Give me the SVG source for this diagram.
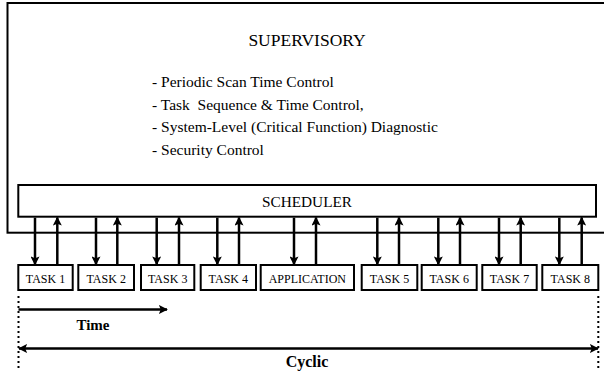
<svg xmlns="http://www.w3.org/2000/svg" width="604" height="371" viewBox="0 0 604 371">
<defs>
<style>
.box{fill:#fff;stroke:#000;stroke-width:2}
.t{font-family:"Liberation Serif","Times New Roman",serif;fill:#000}
.task{font-size:12px;text-anchor:middle}
.arr{stroke:#000;stroke-width:2.5;fill:none}
.dot{stroke:#000;stroke-width:2;stroke-dasharray:2 3;fill:none}
</style>
<marker id="ah" viewBox="0 0 10 10" refX="9" refY="5" markerWidth="9" markerHeight="9" markerUnits="userSpaceOnUse" orient="auto-start-reverse">
<path d="M0,0 L10,5 L0,10 L2,5 Z" fill="#000"/>
</marker>
</defs>
<rect width="604" height="371" fill="#fff"/>
<g id="supervisory">
<rect class="box" x="7.5" y="3" width="610" height="229.7"/>
<text class="t" x="307" y="46" font-size="17.5" text-anchor="middle">SUPERVISORY</text>
<text class="t" x="152" y="87" font-size="15.5">- Periodic Scan Time Control</text>
<text class="t" x="152" y="109.5" font-size="15.5" xml:space="preserve">- Task  Sequence &amp; Time Control,</text>
<text class="t" x="152" y="132" font-size="15.5">- System-Level (Critical Function) Diagnostic</text>
<text class="t" x="152" y="154.5" font-size="15.5">- Security Control</text>
</g>
<g id="scheduler">
<rect class="box" x="18.3" y="185" width="577.7" height="31.7"/>
<text class="t" x="307" y="206.5" font-size="15.3" text-anchor="middle">SCHEDULER</text>
</g>
<g id="task1"><rect class="box" x="18.3" y="265" width="54.4" height="25"/><text class="t task" x="45.5" y="283">TASK 1</text></g>
<g id="task2"><rect class="box" x="78.3" y="265" width="55.7" height="25"/><text class="t task" x="106.2" y="283">TASK 2</text></g>
<g id="task3"><rect class="box" x="141" y="265" width="53.3" height="25"/><text class="t task" x="167.7" y="283">TASK 3</text></g>
<g id="task4"><rect class="box" x="200.7" y="265" width="55.3" height="25"/><text class="t task" x="228.3" y="283">TASK 4</text></g>
<g id="application"><rect class="box" x="260.7" y="265" width="93.3" height="25"/><text class="t task" x="307.3" y="283">APPLICATION</text></g>
<g id="task5"><rect class="box" x="361.7" y="265" width="55.6" height="25"/><text class="t task" x="389.5" y="283">TASK 5</text></g>
<g id="task6"><rect class="box" x="421.7" y="265" width="55" height="25"/><text class="t task" x="449.2" y="283">TASK 6</text></g>
<g id="task7"><rect class="box" x="482.3" y="265" width="54.4" height="25"/><text class="t task" x="509.5" y="283">TASK 7</text></g>
<g id="task8"><rect class="box" x="542.3" y="265" width="56" height="25"/><text class="t task" x="570.3" y="283">TASK 8</text></g>
<g id="connectors">
<line class="arr" marker-end="url(#ah)" x1="35" y1="217.7" x2="35" y2="264.5"/>
<line class="arr" marker-end="url(#ah)" x1="96" y1="217.7" x2="96" y2="264.5"/>
<line class="arr" marker-end="url(#ah)" x1="156.7" y1="217.7" x2="156.7" y2="264.5"/>
<line class="arr" marker-end="url(#ah)" x1="217.3" y1="217.7" x2="217.3" y2="264.5"/>
<line class="arr" marker-end="url(#ah)" x1="294" y1="217.7" x2="294" y2="264.5"/>
<line class="arr" marker-end="url(#ah)" x1="377.3" y1="217.7" x2="377.3" y2="264.5"/>
<line class="arr" marker-end="url(#ah)" x1="438.3" y1="217.7" x2="438.3" y2="264.5"/>
<line class="arr" marker-end="url(#ah)" x1="499" y1="217.7" x2="499" y2="264.5"/>
<line class="arr" marker-end="url(#ah)" x1="559.3" y1="217.7" x2="559.3" y2="264.5"/>
<line class="arr" marker-end="url(#ah)" x1="57.3" y1="264" x2="57.3" y2="217.5"/>
<line class="arr" marker-end="url(#ah)" x1="117.3" y1="264" x2="117.3" y2="217.5"/>
<line class="arr" marker-end="url(#ah)" x1="179" y1="264" x2="179" y2="217.5"/>
<line class="arr" marker-end="url(#ah)" x1="239" y1="264" x2="239" y2="217.5"/>
<line class="arr" marker-end="url(#ah)" x1="316" y1="264" x2="316" y2="217.5"/>
<line class="arr" marker-end="url(#ah)" x1="399" y1="264" x2="399" y2="217.5"/>
<line class="arr" marker-end="url(#ah)" x1="460" y1="264" x2="460" y2="217.5"/>
<line class="arr" marker-end="url(#ah)" x1="520.7" y1="264" x2="520.7" y2="217.5"/>
<line class="arr" marker-end="url(#ah)" x1="581.7" y1="264" x2="581.7" y2="217.5"/>
<line class="dot" x1="18.5" y1="296" x2="18.5" y2="371"/>
<line class="dot" x1="598.3" y1="296" x2="598.3" y2="371"/>
<line class="arr" marker-end="url(#ah)" x1="18.5" y1="309.5" x2="167" y2="309.5"/>
<line class="arr" marker-start="url(#ah)" marker-end="url(#ah)" x1="19" y1="348.5" x2="598" y2="348.5"/>
</g>
<text class="t" x="93" y="330" font-size="15" font-weight="bold" text-anchor="middle">Time</text>
<text class="t" x="307" y="367" font-size="16" font-weight="bold" text-anchor="middle">Cyclic</text>
</svg>
